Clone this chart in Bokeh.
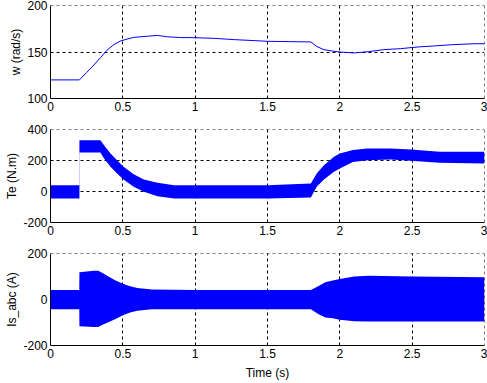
from bokeh.plotting import figure
from bokeh.models import Range1d, FixedTicker, ColumnDataSource, Span
from bokeh.layouts import column
from bokeh.embed import file_html
from bokeh.resources import INLINE

# ---- data ----
x_ticks = [0, 0.5, 1, 1.5, 2, 2.5, 3]
x_tick_labels = ["0", "0.5", "1", "1.5", "2", "2.5", "3"]

# speed w (rad/s)
w_t = [0, 0.2, 0.25, 0.3, 0.345, 0.39, 0.437, 0.483, 0.53, 0.575, 0.67, 0.74, 0.81, 0.9, 1.0,
       1.13, 1.27, 1.4, 1.5, 1.8, 1.84, 1.89, 1.95, 2.0, 2.1, 2.2, 2.3, 2.42, 2.54, 2.65, 2.78, 2.93, 3.0]
w_val = [120, 120, 128, 136, 143.8, 151.8, 157.9, 161.8, 163.9, 165.7, 167, 167.8, 166.3, 165.5, 165.4,
         164.7, 163.3, 162.3, 161.5, 160.8, 156, 152.5, 151, 150, 149, 150.4, 152.5, 153.6, 155.4, 156.5, 157.9, 158.9, 158.9]

# electromagnetic torque Te (N.m): band lower / upper
te_t = [0, 0.199, 0.2, 0.201, 0.345, 0.37, 0.415, 0.46, 0.505, 0.575, 0.645, 0.74, 0.855, 1.0, 1.5, 1.8,
        1.84, 1.89, 1.96, 2.0, 2.09, 2.19, 2.35, 2.49, 2.69, 3.0]
te_lo = [-45, -45, -45, 252, 252, 213, 159, 116, 77, 30, -2, -30, -45, -45, -45, -39,
         30, 77, 127, 148, 191, 202, 206, 198, 185, 180]
te_hi = [41, 41, 331, 331, 331, 299, 245, 202, 159, 112, 77, 56, 41, 41, 41, 52,
         116, 170, 224, 245, 267, 277, 277, 271, 256, 256]

# stator currents Is_abc (A): envelope lower / upper
is_t = [0, 0.199, 0.2, 0.3, 0.33, 0.36, 0.4, 0.45, 0.5, 0.55, 0.6, 0.7, 1.0, 1.5, 1.8,
        1.85, 1.9, 1.95, 2.0, 2.1, 2.2, 2.5, 3.0]
is_lo = [-42, -42, -116, -120, -120, -110, -99, -85, -68, -56, -49, -42, -42, -42, -42,
         -63, -78, -82, -88, -95, -96, -96, -96]
is_hi = [41, 41, 119, 125, 125, 115, 100, 83, 68, 58, 50, 43, 41, 41, 41,
         58, 75, 83, 89, 100, 103, 100, 97]

FONT = "Liberation Sans"
BLUE = "#0000FF"
X_RANGE = (0, 3)


def make_fig(ylabel, yr, yticks, top, bottom, h, xlabel=None):
    p = figure(width=487, height=h, output_backend="svg", toolbar_location=None,
               x_range=Range1d(*X_RANGE), y_range=Range1d(*yr),
               min_border_left=50, min_border_right=3,
               min_border_top=top, min_border_bottom=bottom)
    p.outline_line_color = None
    p.xaxis.ticker = FixedTicker(ticks=x_ticks)
    p.xaxis.major_label_overrides = {t: l for t, l in zip(x_ticks, x_tick_labels)}
    p.yaxis.ticker = FixedTicker(ticks=yticks)
    p.yaxis.major_label_overrides = {t: str(t) for t in yticks}
    for ax in (p.xaxis[0], p.yaxis[0]):
        ax.axis_line_color = "black"
        ax.major_tick_in = 0
        ax.major_tick_out = 0
        ax.minor_tick_line_color = None
        ax.major_label_text_font = FONT
        ax.major_label_text_font_size = "12px"
        ax.major_label_text_color = "black"
        ax.axis_label_text_font = FONT
        ax.axis_label_text_font_size = "12px"
        ax.axis_label_text_font_style = "normal"
        ax.axis_label_text_color = "black"
    p.yaxis.major_label_standoff = 3
    p.yaxis.axis_label_standoff = 1
    p.xaxis.major_label_standoff = 3
    p.xaxis.axis_label_standoff = 5
    p.yaxis.axis_label = ylabel
    if xlabel:
        p.xaxis.axis_label = xlabel
    p.xgrid.ticker = FixedTicker(ticks=x_ticks)
    p.ygrid.ticker = FixedTicker(ticks=yticks)
    for g in (p.xgrid[0], p.ygrid[0]):
        g.grid_line_color = "black"
        g.grid_line_dash = "3 3"
        g.grid_line_width = 1
    # dashed grid lines at the top and right limits (as in the reference)
    p.add_layout(Span(location=yr[1], dimension="width", line_color="black",
                      line_dash="3 3", line_width=1, level="underlay"))
    p.add_layout(Span(location=X_RANGE[1], dimension="height", line_color="black",
                      line_dash="3 3", line_width=1, level="underlay"))
    p.background_fill_color = "white"
    p.border_fill_color = "white"
    return p


p1 = make_fig("w (rad/s)", (100, 200), [100, 150, 200], 5, 26, 124)
p1.line(w_t, w_val, line_color=BLUE, line_width=1)

p2 = make_fig("Te (N.m)", (-200, 400), [-200, 0, 200, 400], 5, 26, 124)
p2.varea(x="t", y1="lo", y2="hi", color=BLUE,
         source=ColumnDataSource(dict(t=te_t, lo=te_lo, hi=te_hi)))

p3 = make_fig("Is_abc (A)", (-200, 200), [-200, 0, 200], 5, 35, 134, xlabel="Time (s)")
p3.varea(x="t", y1="lo", y2="hi", color=BLUE,
         source=ColumnDataSource(dict(t=is_t, lo=is_lo, hi=is_hi)))

layout = column(p1, p2, p3, spacing=0)
open("out.html", "w").write(file_html(layout, INLINE))
